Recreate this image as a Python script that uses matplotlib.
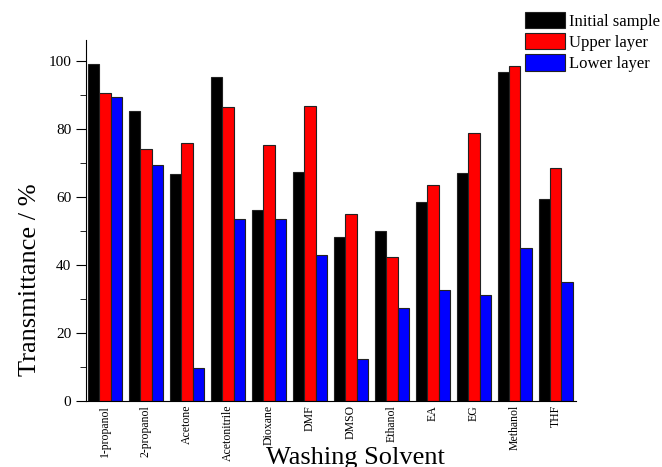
import numpy as np
import matplotlib.pyplot as plt
from matplotlib.ticker import MultipleLocator

plt.rcParams['font.family'] = ['Liberation Serif', 'DejaVu Serif']

solvents = ["1-propanol", "2-propanol", "Acetone", "Acetonitrile", "Dioxane", "DMF",
            "DMSO", "Ethanol", "EA", "EG", "Methanol", "THF"]
initial = [99.1, 85.3, 66.7, 95.1, 56.1, 67.3, 48.2, 49.8, 58.4, 67.0, 96.6, 59.2]
upper = [90.6, 73.9, 75.9, 86.3, 75.2, 86.7, 55.0, 42.1, 63.5, 78.7, 98.5, 68.5]
lower = [89.4, 69.4, 9.6, 53.4, 53.3, 42.8, 12.4, 27.2, 32.5, 31.2, 44.8, 34.8]

fig = plt.figure(figsize=(6.62, 4.67), dpi=100)
ax = fig.add_axes([0.130, 0.142, 0.740, 0.772])

x = np.arange(len(solvents))
w = 0.275
ax.bar(x - w, initial, w, color="black", edgecolor="#222222", linewidth=0.8, label="Initial sample")
ax.bar(x, upper, w, color="#ff0000", edgecolor="#222222", linewidth=0.8, label="Upper layer")
ax.bar(x + w, lower, w, color="#0000ff", edgecolor="#222222", linewidth=0.8, label="Lower layer")

ax.set_xlim(-0.46, 11.49)
ax.set_ylim(0, 106)
ax.spines["top"].set_visible(False)
ax.spines["right"].set_visible(False)
ax.yaxis.set_major_locator(MultipleLocator(20))
ax.yaxis.set_minor_locator(MultipleLocator(10))
ax.tick_params(axis="y", which="major", length=7, direction="out", labelsize=11)
ax.tick_params(axis="y", which="minor", length=4, direction="out")
ax.set_xticks(x)
ax.set_xticklabels(solvents, rotation=90, fontsize=8.5)
ax.tick_params(axis="x", length=0, pad=3)

# axis titles sit off-centre in the original, so place them by hand
ax.set_ylabel("Transmittance / %", fontsize=19)
ax.yaxis.set_label_coords(-0.092, 0.335)
ax.set_xlabel("Washing Solvent", fontsize=19)
ax.xaxis.set_label_coords(0.549, -0.128)

fig.legend(loc="upper left", bbox_to_anchor=(0.793, 0.975), frameon=False,
           fontsize=12, handlelength=2.4, handleheight=1.15, labelspacing=0.2,
           handletextpad=0.25, borderpad=0, borderaxespad=0)

fig.savefig("out.png", dpi=100)
